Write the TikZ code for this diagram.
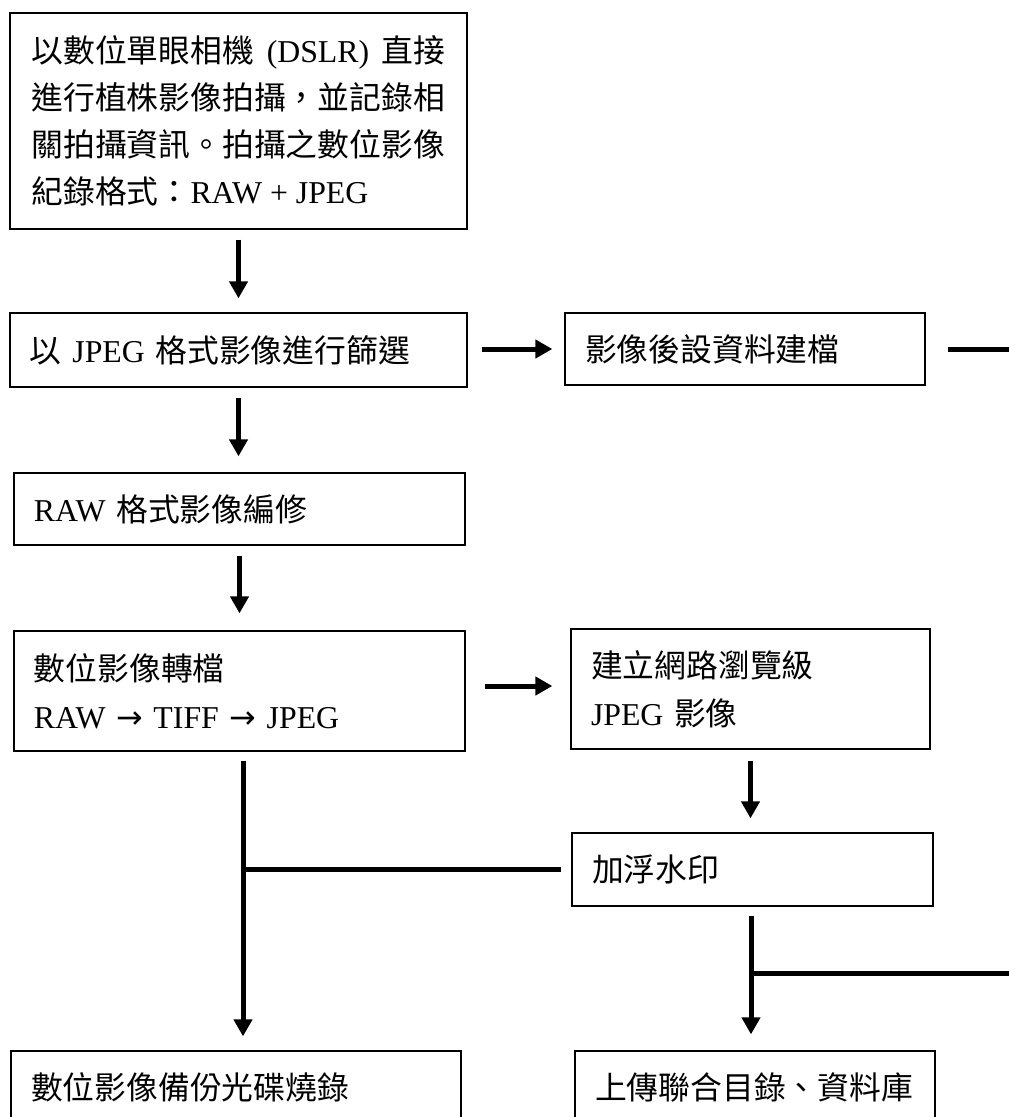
\documentclass[tikz,border=0pt]{standalone}
\usepackage{fontspec}
\setmainfont{Liberation Serif}
\newfontfamily\cjk{Noto Sans CJK TC}
\newfontfamily\arrowfont{DejaVu Sans}
\usetikzlibrary{arrows.meta}

\begin{document}
\begin{tikzpicture}[x=1pt, y=-1pt,
  box/.style={rectangle, draw, line width=1.3pt, inner xsep=20pt, inner ysep=0pt, align=left, font=\fontsize{31.8pt}{48pt}\selectfont},
  flow/.style={line width=5pt, -{Triangle[width=18pt,length=17pt]}, shorten <=10pt, shorten >=15pt},
  link/.style={line width=5pt}]
\useasboundingbox (0,0) rectangle (1009,1117);

% Left column
\node[box, text width=414pt, inner xsep=21.5pt, minimum height=216pt, align=justify, font=\fontsize{31.8pt}{47pt}\selectfont] (shoot) at (238.5,121)
  {{\cjk 以數位單眼相機}\hfill(DSLR)\hfill{\cjk 直接}\\
   {\cjk 進行植株影像拍攝，並記錄相}\\
   {\cjk 關拍攝資訊。拍攝之數位影像}\\
   {\cjk 紀錄格式：}RAW + JPEG};
\node[box, text width=417pt, minimum height=74pt] (filter) at (238.5,350) {{\cjk 以} JPEG {\cjk 格式影像進行篩選}};
\node[box, text width=411pt, minimum height=72pt] (rawedit) at (239.5,509) {RAW {\cjk 格式影像編修}};
\node[box, text width=411pt, minimum height=120pt] (convert) at (239.5,691) {{\cjk 數位影像轉檔}\\RAW {\arrowfont →} TIFF {\arrowfont →} JPEG};
\node[box, text width=410pt, minimum height=72pt] (backup) at (236,1087) {{\cjk 數位影像備份光碟燒錄}};

% Right column
\node[box, text width=320pt, minimum height=72pt] (meta) at (745,349) {{\cjk 影像後設資料建檔}};
\node[box, text width=319pt, minimum height=120pt] (web) at (750.5,689) {{\cjk 建立網路瀏覽級}\\JPEG {\cjk 影像}};
\node[box, text width=321pt, minimum height=73pt] (watermark) at (752.5,869.5) {{\cjk 加浮水印}};
\node[box, text width=320pt, minimum height=72pt] (upload) at (755,1087) {{\cjk 上傳聯合目錄、資料庫}};

% Helper points
\coordinate (jpegin) at ([yshift=3pt]web.west);
\coordinate (trunk) at ([xshift=3.5pt]convert.south);
\coordinate (pubtrunk) at ([xshift=-1.5pt]watermark.south);
\coordinate (edgetop) at (1020,349);
\coordinate (edgelow) at (1020,973);

% Arrows
\draw[flow, shorten >=14pt] (shoot.south) -- (shoot.south |- filter.north);
\draw[flow, shorten >=16pt] (filter.south) -- (filter.south |- rawedit.north);
\draw[flow, shorten >=17pt] (rawedit.south) -- (rawedit.south |- convert.north);
\draw[flow, shorten <=14pt, shorten >=12pt] (filter.east |- meta.west) -- (meta.west);
\draw[flow, shorten <=19pt, shorten >=18pt] (convert.east |- jpegin) -- (jpegin);
\draw[flow, shorten <=11pt, shorten >=14pt] (web.south) -- (web.south |- watermark.north);
\draw[flow, shorten <=9pt, shorten >=14pt] (trunk) -- (trunk |- backup.north);
\draw[flow, shorten <=9pt, shorten >=16pt] (pubtrunk) -- (pubtrunk |- upload.north);

% Lines
\draw[link, shorten <=22pt] (meta.east) -- (edgetop);
\draw[link, shorten <=10pt] (watermark.west) -- (watermark.west -| trunk);
\draw[link] (pubtrunk |- edgelow) -- (edgelow);
\end{tikzpicture}
\end{document}
